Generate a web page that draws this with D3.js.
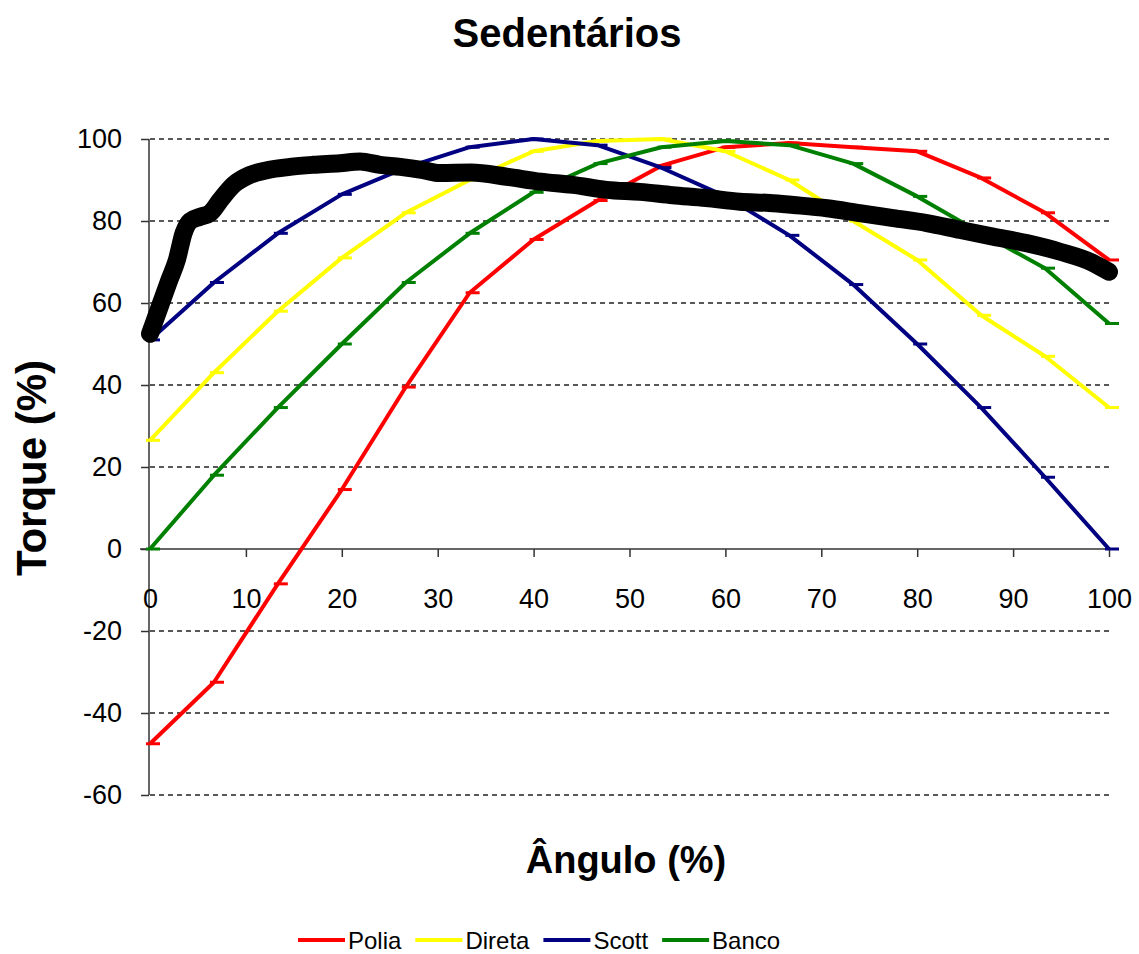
<!DOCTYPE html>
<html>
<head>
<meta charset="utf-8">
<script src="https://cdn.jsdelivr.net/npm/d3@7"></script>
<style>
  body { margin: 0; background: #fff; }
  text { font-family: "Liberation Sans", Arial, sans-serif; fill: #000; }
</style>
</head>
<body>
<div class="chart"></div>
<script>
// data
var angles = [0, 6.67, 13.33, 20, 26.67, 33.33, 40, 46.67, 53.33, 60, 66.67, 73.33, 80, 86.67, 93.33, 100];
var polia  = [-47.5, -32.5, -8.5, 14.5, 39.5, 62.5, 75.5, 85, 93.5, 98, 99, 98, 97, 90.5, 82, 70.5];
var direta = [26.5, 43, 58, 71, 82, 90, 97, 99.5, 100, 97, 90, 80, 70.5, 57, 47, 34.5];
var scott  = [51, 65, 77, 86.5, 93, 98, 100, 98.5, 93, 86, 76.5, 64.5, 50, 34.5, 17.5, 0];
var banco  = [0, 18, 34.5, 50, 65, 77, 87, 94, 98, 99.5, 98.5, 94, 86, 77, 68.5, 55];

// thick black curve (no legend entry)
var blackX = [0, 1, 2, 2.8, 3.5, 4.2, 5.2, 6.3, 7.3, 8.7, 10.4, 12.2, 14.6, 17, 19.8, 21.9, 24, 26.1, 28.5, 30.2,
              33.5, 37.2, 40.7, 44.1, 47.6, 51.1, 54.5, 58, 61.5, 64.6, 67.1, 70.6, 74, 77.5, 81, 84.5, 87.9, 91.4, 94.9, 98.3, 100];
var blackY = [52.5, 59, 65.5, 70.5, 77, 80, 81, 82, 85, 88.8, 91.2, 92.4, 93.2, 93.7, 94.1, 94.5, 93.7, 93.2, 92.4, 91.7,
              91.8, 90.8, 89.6, 88.8, 87.6, 87.1, 86.3, 85.6, 84.7, 84.4, 83.9, 83.1, 81.9, 80.7, 79.5, 77.8, 76.2, 74.6, 72.5, 69.8, 67.6];

var seriesNames = ["Polia", "Direta", "Scott", "Banco"];
var seriesColors = ["#ff0000", "#ffff00", "#000080", "#008000"];
var seriesValues = [polia, direta, scott, banco];
var yTicks = [-60, -40, -20, 0, 20, 40, 60, 80, 100];
var xTicks = [0, 10, 20, 30, 40, 50, 60, 70, 80, 90, 100];

var svgWidth = 1139;
var svgHeight = 954;

var svg = d3.select(".chart")
    .append("svg")
    .attr("width", svgWidth)
    .attr("height", svgHeight);

var x = d3.scaleLinear().domain([0, 100]).range([150, 1109]);
var y = d3.scaleLinear().domain([-60, 100]).range([795, 139]);

// dashed gridlines
svg.append("g")
    .selectAll("line")
    .data(yTicks.filter(d => d !== 0))
    .enter()
    .append("line")
    .attr("x1", x(0))
    .attr("x2", x(100))
    .attr("y1", d => y(d))
    .attr("y2", d => y(d))
    .attr("stroke", "#222")
    .attr("stroke-width", 1.5)
    .attr("stroke-dasharray", "5,4");

// y axis (plain hyphen for negatives, like the original)
var yAxis = svg.append("g")
    .attr("transform", `translate(${x(0) - 1}, 0)`)
    .call(d3.axisLeft(y).tickValues(yTicks).tickSize(8).tickPadding(19).tickFormat(d => String(d)));

// x axis on the zero line
var xAxis = svg.append("g")
    .attr("transform", `translate(0, ${y(0)})`)
    .call(d3.axisBottom(x).tickValues(xTicks).tickSizeInner(8).tickSizeOuter(0).tickPadding(32).tickFormat(d => String(d)));

[yAxis, xAxis].forEach(function (ax) {
    ax.selectAll("path").attr("stroke", "#333").attr("stroke-width", 1.5);
    ax.selectAll("line").attr("stroke", "#333").attr("stroke-width", 1.5);
    ax.selectAll("text")
        .style("font-family", "'Liberation Sans', Arial, sans-serif")
        .style("font-size", "27px")
        .attr("fill", "#000");
});
xAxis.select("path").attr("d", `M${x(0) - 10},0H${x(100)}`);
yAxis.select("path").attr("d", `M0,${y(100)}V${y(-60)}`);
xAxis.selectAll(".tick").filter(d => d === 0).select("line").remove();

// colored series
var line = d3.line()
    .x((d, i) => x(angles[i]))
    .y(d => y(d));

seriesValues.forEach(function (vals, k) {
    var g = svg.append("g");
    g.append("path")
        .datum(vals)
        .attr("d", line)
        .attr("fill", "none")
        .attr("stroke", seriesColors[k])
        .attr("stroke-width", 4)
        .attr("stroke-linejoin", "round");
    g.selectAll("line")
        .data(vals)
        .enter()
        .append("line")
        .attr("x1", (d, i) => x(angles[i]) - 4)
        .attr("x2", (d, i) => x(angles[i]) + 10)
        .attr("y1", d => y(d))
        .attr("y2", d => y(d))
        .attr("stroke", seriesColors[k])
        .attr("stroke-width", 3);
});

// black thick curve
var blackLine = d3.line()
    .x((d, i) => x(blackX[i]))
    .y(d => y(d))
    .curve(d3.curveMonotoneX);

svg.append("path")
    .datum(blackY)
    .attr("d", blackLine)
    .attr("fill", "none")
    .attr("stroke", "#000")
    .attr("stroke-width", 18)
    .attr("stroke-linejoin", "round")
    .attr("stroke-linecap", "round");

// titles
svg.append("text")
    .attr("x", 567)
    .attr("y", 47)
    .attr("text-anchor", "middle")
    .style("font-size", "40px")
    .style("font-weight", "bold")
    .text("Sedentários");

svg.append("text")
    .attr("x", 626)
    .attr("y", 873)
    .attr("text-anchor", "middle")
    .style("font-size", "38px")
    .style("font-weight", "bold")
    .text("Ângulo (%)");

svg.append("text")
    .attr("transform", "translate(46, 468) rotate(-90)")
    .attr("text-anchor", "middle")
    .style("font-size", "42px")
    .style("font-weight", "bold")
    .text("Torque (%)");

// legend
var legend = svg.append("g").attr("transform", "translate(298, 940)");
var lx = 0;
seriesNames.forEach(function (name, k) {
    legend.append("line")
        .attr("x1", lx)
        .attr("x2", lx + 47)
        .attr("y1", 0)
        .attr("y2", 0)
        .attr("stroke", seriesColors[k])
        .attr("stroke-width", 4);
    var t = legend.append("text")
        .attr("x", lx + 50)
        .attr("y", 8.5)
        .style("font-size", "24px")
        .text(name);
    lx += 50 + t.node().getComputedTextLength() + 14;
});
</script>
</body>
</html>
